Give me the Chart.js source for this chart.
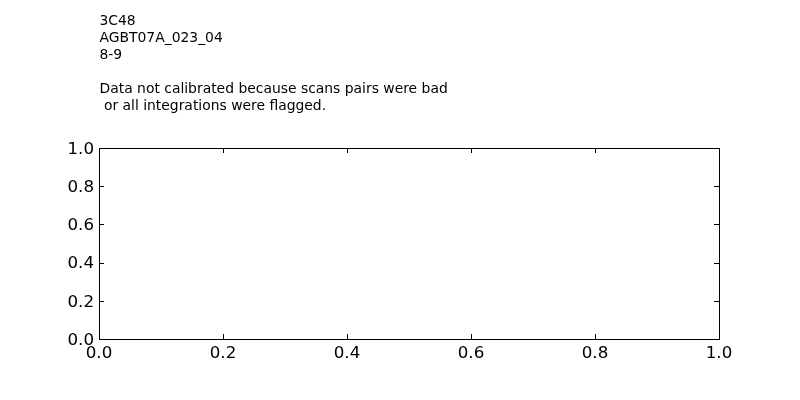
<!DOCTYPE html>
<html>
<head>
<meta charset="utf-8">
<script src="https://cdn.jsdelivr.net/npm/chart.js@4"></script>
<style>
  html, body { margin: 0; padding: 0; background: #fff; }
  #wrap { width: 800px; height: 400px; position: relative; }
</style>
</head>
<body>
<div id="wrap"><canvas id="chart" width="800" height="400"></canvas></div>
<script>
// header text shown above the (empty) plot
const headerLines = [
    '3C48',
    'AGBT07A_023_04',
    '8-9',
    '',
    'Data not calibrated because scans pairs were bad',
    ' or all integrations were flagged.'
];

// axis ticks
const xTickValues = [0, 0.2, 0.4, 0.6, 0.8, 1.0];
const xTickLabels = ['0.0', '0.2', '0.4', '0.6', '0.8', '1.0'];
const yTickValues = [0, 0.2, 0.4, 0.6, 0.8, 1.0];
const yTickLabels = ['0.0', '0.2', '0.4', '0.6', '0.8', '1.0'];

// no points: every scan pair was flagged
const seriesPoints = [];

const FONT = "'DejaVu Sans', sans-serif";

// frame + inward ticks on all four sides, like old matplotlib
const framePlugin = {
    id: 'frame',
    afterDraw(chart) {
        const { ctx, chartArea: a, scales } = chart;
        const len = 5;
        ctx.save();
        ctx.strokeStyle = '#000';
        ctx.lineWidth = 1;
        ctx.beginPath();
        xTickValues.forEach(v => {
            const px = Math.round(scales.x.getPixelForValue(v)) + 0.5;
            ctx.moveTo(px, a.bottom); ctx.lineTo(px, a.bottom - len);
            ctx.moveTo(px, a.top); ctx.lineTo(px, a.top + len);
        });
        yTickValues.forEach(v => {
            const py = Math.round(scales.y.getPixelForValue(v)) + 0.5;
            ctx.moveTo(a.left, py); ctx.lineTo(a.left + len, py);
            ctx.moveTo(a.right, py); ctx.lineTo(a.right - len, py);
        });
        ctx.stroke();
        ctx.strokeRect(Math.round(a.left) + 0.5, Math.round(a.top) + 0.5,
            Math.round(a.right - a.left), Math.round(a.bottom - a.top));

        // header text
        ctx.fillStyle = '#000';
        ctx.font = '13.9px ' + FONT;
        ctx.textAlign = 'left';
        ctx.textBaseline = 'alphabetic';
        headerLines.forEach((line, i) => {
            ctx.fillText(line, 99.5, 24.5 + i * 17);
        });
        ctx.restore();
    }
};

new Chart(document.getElementById('chart'), {
    type: 'scatter',
    data: {
        datasets: [{ data: seriesPoints, pointRadius: 0 }]
    },
    options: {
        responsive: false,
        animation: false,
        layout: { padding: { top: 148, left: 0, right: 81, bottom: 0 } },
        plugins: { legend: { display: false }, tooltip: { enabled: false } },
        scales: {
            x: {
                type: 'linear', min: 0, max: 1,
                afterBuildTicks: s => { s.ticks = xTickValues.map(v => ({ value: v })); },
                afterFit: s => { s.height = 61; },
                grid: { display: false, drawTicks: false },
                border: { display: false },
                ticks: {
                    padding: 5,
                    color: '#000',
                    maxRotation: 0,
                    font: { family: FONT, size: 16.7 },
                    callback: (v, i) => xTickLabels[i]
                }
            },
            y: {
                type: 'linear', min: 0, max: 1,
                afterBuildTicks: s => { s.ticks = yTickValues.map(v => ({ value: v })); },
                afterFit: s => { s.width = 99; },
                grid: { display: false, drawTicks: false },
                border: { display: false },
                ticks: {
                    padding: 5,
                    labelOffset: 1.5,
                    color: '#000',
                    font: { family: FONT, size: 16.7 },
                    callback: (v, i) => yTickLabels[i]
                }
            }
        }
    },
    plugins: [framePlugin]
});
</script>
</body>
</html>
